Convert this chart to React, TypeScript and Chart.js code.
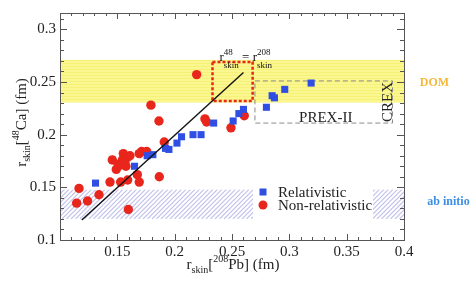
import React, { useEffect, useRef } from "react";
import { Chart, registerables } from "chart.js";
Chart.register(...registerables);

// ---- data ----
const REL_X = [0.131, 0.165, 0.176, 0.181, 0.192, 0.195, 0.202, 0.206, 0.216, 0.223, 0.234, 0.251, 0.256, 0.26, 0.28, 0.285, 0.287, 0.296, 0.319];
const REL_Y = [0.154, 0.17, 0.18, 0.181, 0.187, 0.186, 0.192, 0.198, 0.2, 0.2, 0.211, 0.213, 0.22, 0.224, 0.226, 0.237, 0.235, 0.243, 0.249];
const NONREL_X = [0.1145, 0.1166, 0.124, 0.134, 0.1436, 0.1456, 0.1491, 0.1508, 0.1523, 0.1529, 0.1545, 0.1552, 0.1567, 0.1575, 0.159, 0.1596, 0.161, 0.1596, 0.1674, 0.1691, 0.1691, 0.1712, 0.1756, 0.1866, 0.1793, 0.1863, 0.1909, 0.2192, 0.2264, 0.2279, 0.2491, 0.2607];
const NONREL_Y = [0.135, 0.149, 0.137, 0.143, 0.155, 0.176, 0.167, 0.172, 0.171, 0.155, 0.176, 0.182, 0.174, 0.17, 0.157, 0.179, 0.18, 0.129, 0.162, 0.155, 0.182, 0.184, 0.184, 0.16, 0.228, 0.213, 0.193, 0.257, 0.215, 0.212, 0.2065, 0.218];
const FIT_X = [0.119, 0.26];
const FIT_Y = [0.119, 0.259];

const X_TICKS = [0.1, 0.15, 0.2, 0.25, 0.3, 0.35, 0.4];
const X_TICK_LABELS = ["", "0.15", "0.2", "0.25", "0.3", "0.35", "0.4"];
const Y_TICKS = [0.1, 0.15, 0.2, 0.25, 0.3];
const Y_TICK_LABELS = ["0.1", "0.15", "0.2", "0.25", "0.3"];

const DOM_BAND = [0.231, 0.271];
const AB_INITIO_BAND = [0.12, 0.148];
const EQUAL_BOX_X = [0.233, 0.268];
const EQUAL_BOX_Y = [0.232, 0.269];
const PREX_BOX_X = [0.27, 0.39];
const PREX_BOX_Y = [0.211, 0.251];

const LEGEND_LABELS = ["Relativistic", "Non-relativistic"];

// ---- styling ----
const SERIF = '"Liberation Serif", "DejaVu Serif", serif';
const BLUE = "#2f4fe4";
const RED = "#e8261c";

type Seg = { t?: string; stack?: [string, string]; size: number; dy?: number; supDy?: number; subDy?: number; bold?: boolean };

function segWidth(ctx: CanvasRenderingContext2D, s: Seg) {
  ctx.font = `${s.bold ? "bold " : ""}${s.size}px ${SERIF}`;
  if (s.stack) return Math.max(ctx.measureText(s.stack[0]).width, ctx.measureText(s.stack[1]).width);
  return ctx.measureText(s.t || "").width;
}

function drawRich(ctx: CanvasRenderingContext2D, segs: Seg[], x: number, y: number, align: "left" | "center", color: string) {
  const total = segs.reduce((a, s) => a + segWidth(ctx, s), 0);
  let cx = align === "center" ? x - total / 2 : x;
  ctx.textAlign = "left";
  ctx.textBaseline = "alphabetic";
  ctx.fillStyle = color;
  for (const s of segs) {
    const w = segWidth(ctx, s);
    if (s.stack) {
      ctx.fillText(s.stack[0], cx, y + (s.supDy || 0));
      ctx.fillText(s.stack[1], cx, y + (s.subDy || 0));
    } else {
      ctx.fillText(s.t || "", cx, y + (s.dy || 0));
    }
    cx += w;
  }
}

const decorPlugin = {
  id: "decor",
  beforeDatasetsDraw(chart: any) {
    const { ctx, chartArea: a } = chart;
    const xs = chart.scales.x;
    const ys = chart.scales.y;
    ctx.save();
    ctx.beginPath();
    ctx.rect(a.left, a.top, a.right - a.left, a.bottom - a.top);
    ctx.clip();
    // DOM band
    const dTop = ys.getPixelForValue(DOM_BAND[1]);
    const dBot = ys.getPixelForValue(DOM_BAND[0]);
    ctx.fillStyle = "#faf690";
    ctx.fillRect(a.left, dTop, a.right - a.left, dBot - dTop);
    ctx.fillStyle = "rgba(245,235,90,0.45)";
    for (let yy = Math.ceil(dTop); yy < dBot; yy += 3) {
      ctx.fillRect(a.left, yy, a.right - a.left, 1);
    }
    // ab initio hatched band
    const hTop = ys.getPixelForValue(AB_INITIO_BAND[1]);
    const hBot = ys.getPixelForValue(AB_INITIO_BAND[0]);
    ctx.save();
    ctx.beginPath();
    ctx.rect(a.left, hTop, a.right - a.left, hBot - hTop);
    ctx.clip();
    ctx.strokeStyle = "#c3c3ec";
    ctx.lineWidth = 1.2;
    const h = hBot - hTop;
    ctx.beginPath();
    for (let k = a.left - h; k < a.right + h; k += 4.5) {
      ctx.moveTo(k, hBot);
      ctx.lineTo(k + h, hTop);
    }
    ctx.stroke();
    ctx.restore();
    // PREX-II box
    ctx.setLineDash([5, 3]);
    ctx.strokeStyle = "#8a8a8a";
    ctx.lineWidth = 1;
    const px0 = xs.getPixelForValue(PREX_BOX_X[0]);
    const px1 = xs.getPixelForValue(PREX_BOX_X[1]);
    const py0 = ys.getPixelForValue(PREX_BOX_Y[1]);
    const py1 = ys.getPixelForValue(PREX_BOX_Y[0]);
    ctx.strokeRect(px0, py0, px1 - px0, py1 - py0);
    // equality box
    ctx.setLineDash([3, 2]);
    ctx.strokeStyle = RED;
    ctx.lineWidth = 2.5;
    const ex0 = xs.getPixelForValue(EQUAL_BOX_X[0]);
    const ex1 = xs.getPixelForValue(EQUAL_BOX_X[1]);
    const ey0 = ys.getPixelForValue(EQUAL_BOX_Y[1]);
    const ey1 = ys.getPixelForValue(EQUAL_BOX_Y[0]);
    ctx.strokeRect(ex0, ey0, ex1 - ex0, ey1 - ey0);
    ctx.setLineDash([]);
    ctx.restore();
  },
  afterDatasetsDraw(chart: any) {
    const { ctx, chartArea: a } = chart;
    const xs = chart.scales.x;
    const ys = chart.scales.y;
    ctx.save();
    // ticks
    ctx.strokeStyle = "#555";
    ctx.lineWidth = 1;
    ctx.beginPath();
    for (let i = 10; i <= 40; i++) {
      const px = Math.round(xs.getPixelForValue(i / 100)) + 0.5;
      const len = i % 5 === 0 ? 6 : 3;
      ctx.moveTo(px, a.bottom);
      ctx.lineTo(px, a.bottom - len);
      ctx.moveTo(px, a.top);
      ctx.lineTo(px, a.top + len);
    }
    for (let i = 10; i <= 31; i++) {
      const py = Math.round(ys.getPixelForValue(i / 100)) + 0.5;
      const len = i % 5 === 0 ? 7 : 4;
      ctx.moveTo(a.left, py);
      ctx.lineTo(a.left + len, py);
      ctx.moveTo(a.right, py);
      ctx.lineTo(a.right - len, py);
    }
    ctx.stroke();
    // frame
    ctx.strokeStyle = "#555";
    ctx.strokeRect(Math.round(a.left) + 0.5, Math.round(a.top) + 0.5, Math.round(a.right - a.left), Math.round(a.bottom - a.top));

    // legend
    const lx0 = a.left + 193;
    const lx1 = a.left + 313;
    const hTop = ys.getPixelForValue(AB_INITIO_BAND[1]);
    const hBot = ys.getPixelForValue(AB_INITIO_BAND[0]);
    ctx.fillStyle = "#ffffff";
    ctx.fillRect(lx0, hTop - 1, lx1 - lx0, hBot - hTop + 2);
    const r1 = a.bottom - 48;
    const r2 = a.bottom - 35;
    ctx.fillStyle = BLUE;
    ctx.fillRect(a.left + 203 - 3.5, r1 - 3.5, 7, 7);
    ctx.fillStyle = RED;
    ctx.beginPath();
    ctx.arc(a.left + 203, r2, 4.5, 0, Math.PI * 2);
    ctx.fill();
    ctx.fillStyle = "#222";
    ctx.font = `15px ${SERIF}`;
    ctx.textAlign = "left";
    ctx.textBaseline = "middle";
    ctx.fillText(LEGEND_LABELS[0], a.left + 218, r1 + 1);
    ctx.fillText(LEGEND_LABELS[1], a.left + 218, r2 + 1);

    // PREX-II and CREX
    const px0 = xs.getPixelForValue(PREX_BOX_X[0]);
    const px1 = xs.getPixelForValue(PREX_BOX_X[1]);
    const py0 = ys.getPixelForValue(PREX_BOX_Y[1]);
    const py1 = ys.getPixelForValue(PREX_BOX_Y[0]);
    ctx.font = `15px ${SERIF}`;
    ctx.fillStyle = "#222";
    ctx.textAlign = "center";
    ctx.textBaseline = "alphabetic";
    ctx.fillText("PREX-II", (px0 + px1) / 2 + 2, py1 - 1);
    ctx.save();
    ctx.translate(px1 - 1, (py0 + py1) / 2);
    ctx.rotate(-Math.PI / 2);
    ctx.fillText("CREX", 0, 0);
    ctx.restore();

    // equality label
    const ex0 = xs.getPixelForValue(EQUAL_BOX_X[0]);
    const ey0 = ys.getPixelForValue(EQUAL_BOX_Y[1]);
    drawRich(
      ctx,
      [
        { t: "r", size: 13 },
        { stack: ["48", "skin"], size: 9, supDy: -6, subDy: 7 },
        { t: " = r", size: 13 },
        { stack: ["208", "skin"], size: 9, supDy: -6, subDy: 7 },
      ],
      ex0 + 7,
      ey0 - 1,
      "left",
      "#111"
    );

    // side labels
    ctx.font = `bold 12px ${SERIF}`;
    ctx.textAlign = "center";
    ctx.textBaseline = "middle";
    ctx.fillStyle = "#f5b83a";
    ctx.fillText("DOM", a.right + 30.5, (ys.getPixelForValue(DOM_BAND[0]) + ys.getPixelForValue(DOM_BAND[1])) / 2 + 1.5);
    ctx.fillStyle = "#3d8fe6";
    ctx.fillText("ab initio", a.right + 44.5, (hTop + hBot) / 2 - 2);

    // axis titles
    drawRich(
      ctx,
      [
        { t: "r", size: 15 },
        { t: "skin", size: 10, dy: 4 },
        { t: "[", size: 15 },
        { t: "208", size: 10, dy: -7 },
        { t: "Pb] (fm)", size: 15 },
      ],
      (a.left + a.right) / 2 + 1,
      a.bottom + 29,
      "center",
      "#222"
    );
    ctx.save();
    ctx.translate(26, (a.top + a.bottom) / 2 - 4);
    ctx.rotate(-Math.PI / 2);
    drawRich(
      ctx,
      [
        { t: "r", size: 15 },
        { t: "skin", size: 10, dy: 4 },
        { t: "[", size: 15 },
        { t: "48", size: 10, dy: -7 },
        { t: "Ca] (fm)", size: 15 },
      ],
      0,
      0,
      "center",
      "#222"
    );
    ctx.restore();
    ctx.restore();
  },
};

export default function App() {
  const ref = useRef<HTMLCanvasElement | null>(null);
  useEffect(() => {
    if (!ref.current) return;
    const chart = new Chart(ref.current, {
      type: "scatter",
      data: {
        datasets: [
          {
            type: "line",
            label: "fit",
            data: FIT_X.map((x, i) => ({ x, y: FIT_Y[i] })),
            borderColor: "#111",
            borderWidth: 1.4,
            pointRadius: 0,
            fill: false,
            order: 0,
          } as any,
          {
            label: LEGEND_LABELS[0],
            data: REL_X.map((x, i) => ({ x, y: REL_Y[i] })),
            pointStyle: "rect",
            pointRadius: 5,
            backgroundColor: BLUE,
            borderWidth: 0,
            order: 1,
          },
          {
            label: LEGEND_LABELS[1],
            data: NONREL_X.map((x, i) => ({ x, y: NONREL_Y[i] })),
            pointStyle: "circle",
            pointRadius: 4.7,
            backgroundColor: RED,
            borderWidth: 0,
            order: 2,
          },
        ],
      },
      options: {
        animation: false,
        responsive: false,
        maintainAspectRatio: false,
        layout: { padding: { left: 0, right: 72, top: 7, bottom: 0 } },
        plugins: { legend: { display: false }, tooltip: { enabled: false } },
        scales: {
          x: {
            type: "linear",
            min: 0.1,
            max: 0.4,
            afterBuildTicks: (s: any) => {
              s.ticks = X_TICKS.map((v) => ({ value: v }));
            },
            afterFit: (s: any) => {
              s.height = 48;
            },
            ticks: {
              autoSkip: false,
              maxRotation: 0,
              padding: 3,
              color: "#222",
              font: { family: SERIF, size: 15 },
              callback: (v: any) => {
                const i = X_TICKS.findIndex((t) => Math.abs(t - Number(v)) < 1e-9);
                return i >= 0 ? X_TICK_LABELS[i] : "";
              },
            },
            grid: { display: false, drawTicks: false },
            border: { display: false },
          },
          y: {
            type: "linear",
            min: 0.1,
            max: 0.3155,
            afterBuildTicks: (s: any) => {
              s.ticks = Y_TICKS.map((v) => ({ value: v }));
            },
            afterFit: (s: any) => {
              s.width = 60;
            },
            ticks: {
              autoSkip: false,
              padding: 4,
              color: "#222",
              font: { family: SERIF, size: 15 },
              callback: (v: any) => {
                const i = Y_TICKS.findIndex((t) => Math.abs(t - Number(v)) < 1e-9);
                return i >= 0 ? Y_TICK_LABELS[i] : "";
              },
            },
            grid: { display: false, drawTicks: false },
            border: { display: false },
          },
        },
      },
      plugins: [decorPlugin],
    });
    return () => chart.destroy();
  }, []);
  return (
    <div style={{ position: "fixed", left: 0, top: 0, width: 476, height: 288, background: "#fff" }}>
      <canvas ref={ref} width={476} height={288} style={{ display: "block" }} />
    </div>
  );
}
